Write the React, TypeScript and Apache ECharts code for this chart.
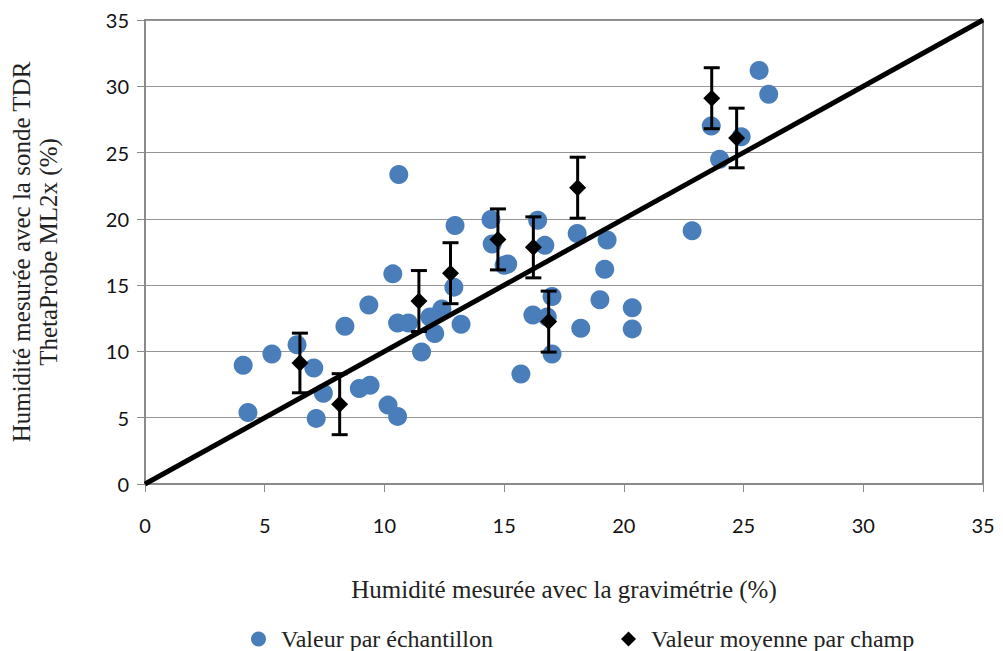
import React, { useEffect, useRef } from "react";
import * as echarts from "echarts";

const sampleX = [4.1, 4.3, 5.3, 6.35, 7.05, 7.15, 7.45, 8.35, 8.95, 9.4, 9.35, 10.15, 10.35, 10.55, 10.6, 10.55, 11.0, 11.55, 11.9, 12.1, 12.4, 12.9, 12.95, 13.2, 14.45, 14.5, 15.0, 15.15, 15.7, 16.2, 16.4, 16.7, 16.8, 17.0, 17.0, 18.05, 18.2, 19.0, 19.2, 19.3, 20.35, 20.35, 22.85, 23.65, 24.0, 24.9, 25.65, 26.05];
const sampleY = [8.95, 5.4, 9.8, 10.5, 8.75, 4.95, 6.85, 11.9, 7.2, 7.45, 13.5, 5.95, 15.85, 5.1, 23.35, 12.15, 12.15, 9.95, 12.6, 11.35, 13.2, 14.85, 19.5, 12.05, 19.95, 18.1, 16.5, 16.6, 8.3, 12.75, 19.9, 18.0, 12.6, 14.15, 9.8, 18.9, 11.75, 13.9, 16.2, 18.4, 13.3, 11.7, 19.1, 27.0, 24.5, 26.2, 31.2, 29.4];

const meanX = [6.47, 8.13, 11.44, 12.76, 14.74, 16.22, 16.86, 18.07, 23.67, 24.71];
const meanY = [9.13, 6.02, 13.8, 15.9, 18.45, 17.85, 12.25, 22.35, 29.1, 26.1];
const meanErr = [2.25, 2.3, 2.3, 2.3, 2.3, 2.3, 2.3, 2.3, 2.3, 2.25];

const lineX = [0, 35];
const lineY = [0, 35];

const serif = "Liberation Serif";
const sans = "Lato";

export default function App() {
  const ref = useRef<HTMLDivElement>(null);
  useEffect(() => {
    if (!ref.current) return;
    const chart = echarts.init(ref.current, null, { renderer: "svg" });
    const samples = sampleX.map((x, i) => [x, sampleY[i]]);
    const means = meanX.map((x, i) => [x, meanY[i], meanErr[i]]);
    const diag = lineX.map((x, i) => [x, lineY[i]]);
    const legendText = { fontFamily: serif, fontSize: 24, color: "#222", padding: [0, 0, 0, 10] };
    chart.setOption({
      animation: false,
      backgroundColor: "#ffffff",
      grid: { left: 142, right: 20, top: 20, bottom: 167, containLabel: false, show: true, borderColor: "#8a8a8a", borderWidth: 2 },
      legend: [
        {
          data: [{ name: "Valeur par échantillon", icon: "circle" }],
          left: 246,
          top: 622,
          itemWidth: 15,
          itemHeight: 15,
          textStyle: legendText,
        },
        {
          data: [{ name: "Valeur moyenne par champ", icon: "diamond" }],
          left: 616,
          top: 622,
          itemWidth: 15,
          itemHeight: 15,
          textStyle: legendText,
        },
      ],
      xAxis: {
        type: "value",
        min: 0,
        max: 35,
        interval: 5,
        name: "Humidité mesurée avec la gravimétrie (%)",
        nameLocation: "middle",
        nameGap: 93,
        nameTextStyle: { fontFamily: serif, fontSize: 25, color: "#222" },
        axisLine: { show: true, lineStyle: { color: "#8a8a8a", width: 2 } },
        axisTick: { show: true, length: 8, lineStyle: { color: "#8a8a8a", width: 1 } },
        axisLabel: { fontFamily: sans, fontSize: 20, color: "#111", margin: 31 },
        splitLine: { show: false },
      },
      yAxis: {
        type: "value",
        min: 0,
        max: 35,
        interval: 5,
        name: "Humidité mesurée avec la sonde TDR\nThetaProbe ML2x (%)",
        nameLocation: "middle",
        nameGap: 83,
        nameRotate: 90,
        nameTextStyle: { fontFamily: serif, fontSize: 25, color: "#222", lineHeight: 27 },
        axisLine: { show: true, lineStyle: { color: "#8a8a8a", width: 2 } },
        axisTick: { show: true, length: 8, lineStyle: { color: "#8a8a8a", width: 1 } },
        axisLabel: { fontFamily: sans, fontSize: 20, color: "#111", margin: 16 },
        splitLine: { show: true, lineStyle: { color: "#959595", width: 1 } },
      },
      series: [
        {
          name: "Valeur par échantillon",
          type: "scatter",
          data: samples,
          symbol: "circle",
          symbolSize: 19,
          itemStyle: { color: "#4a7ebb", opacity: 1 },
          z: 2,
        },
        {
          name: "diag",
          type: "line",
          data: diag,
          showSymbol: false,
          symbol: "none",
          lineStyle: { color: "#000", width: 5 },
          z: 3,
        },
        {
          name: "errbars",
          type: "custom",
          data: means,
          z: 4,
          renderItem: (params: any, api: any) => {
            const x = api.value(0);
            const y = api.value(1);
            const e = api.value(2);
            const top = api.coord([x, y + e]);
            const bot = api.coord([x, y - e]);
            const cap = 8;
            const style = { stroke: "#000", lineWidth: 3 };
            return {
              type: "group",
              children: [
                { type: "line", shape: { x1: top[0], y1: top[1], x2: bot[0], y2: bot[1] }, style },
                { type: "line", shape: { x1: top[0] - cap, y1: top[1], x2: top[0] + cap, y2: top[1] }, style },
                { type: "line", shape: { x1: bot[0] - cap, y1: bot[1], x2: bot[0] + cap, y2: bot[1] }, style },
              ],
            };
          },
        },
        {
          name: "Valeur moyenne par champ",
          type: "scatter",
          data: means.map((m) => [m[0], m[1]]),
          symbol: "diamond",
          symbolSize: 17,
          itemStyle: { color: "#000", opacity: 1 },
          z: 5,
        },
      ],
    });
    return () => chart.dispose();
  }, []);
  return <div ref={ref} style={{ width: 1003, height: 651, position: "absolute", left: 0, top: 0 }} />;
}
